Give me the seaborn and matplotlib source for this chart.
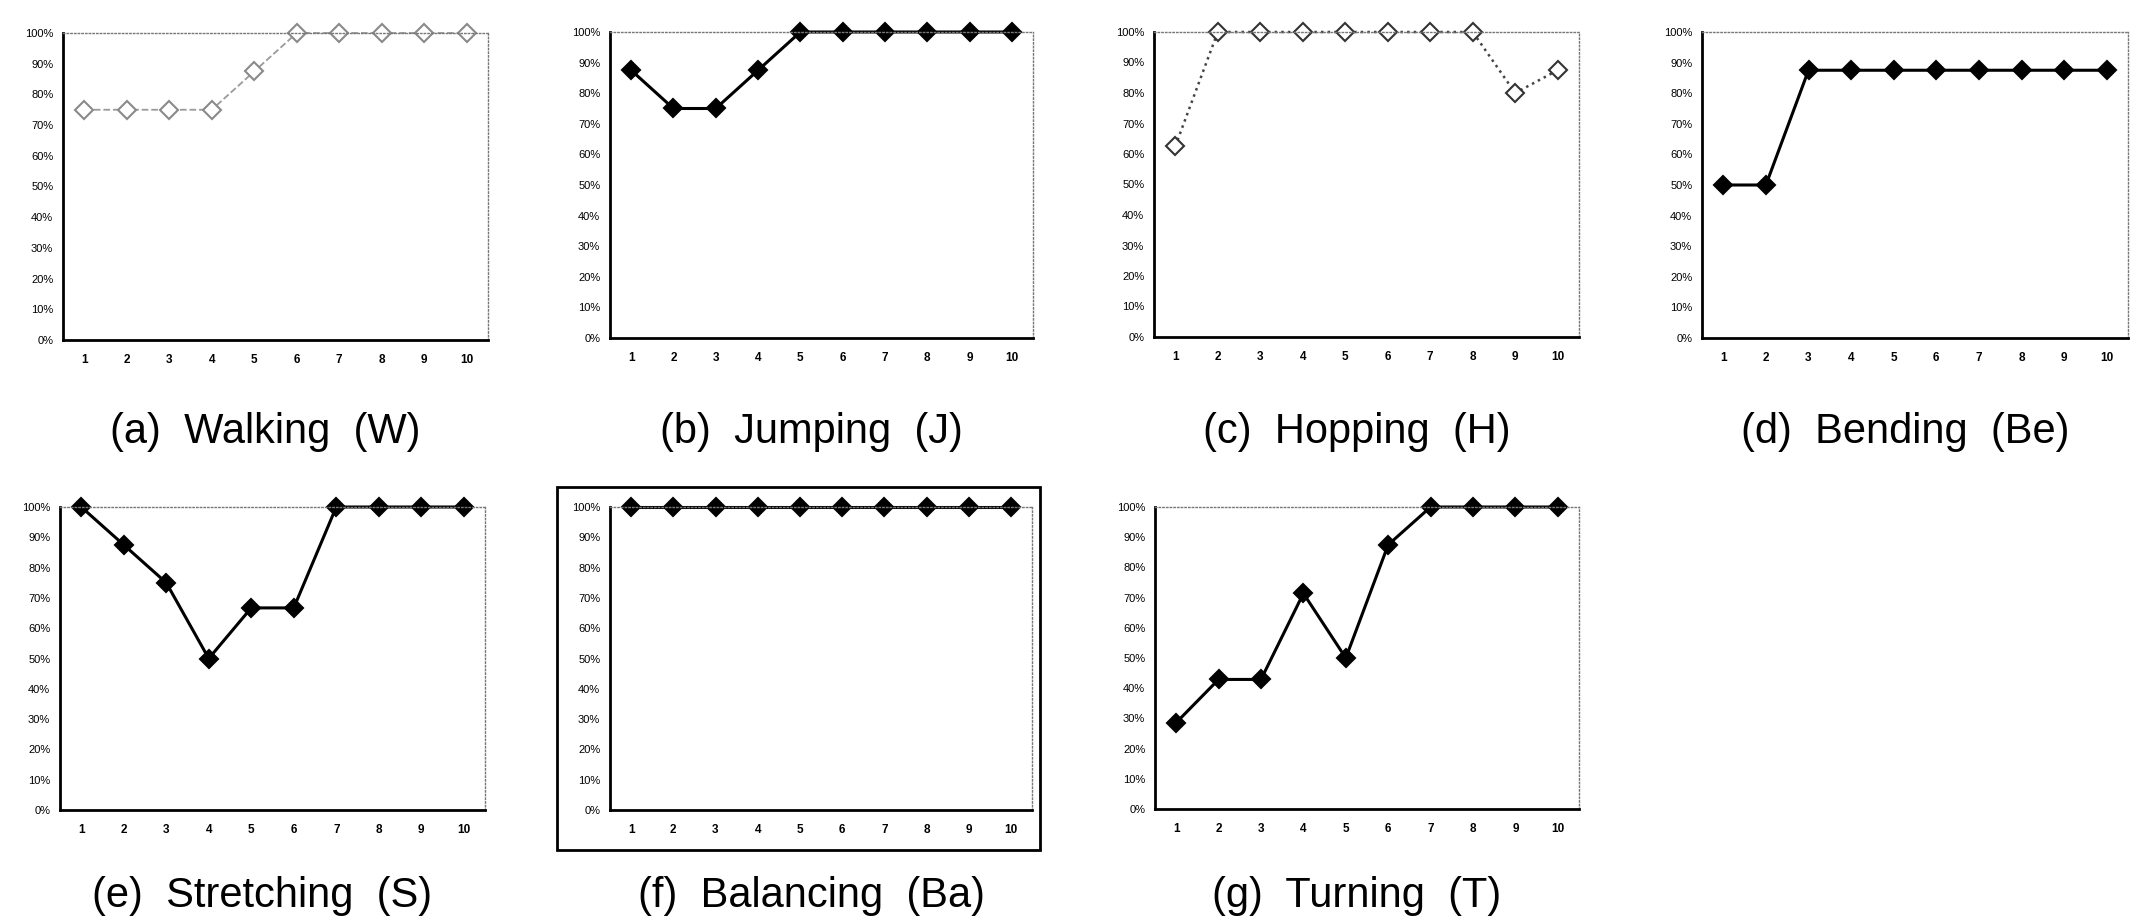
#!/usr/bin/env python3

import matplotlib
matplotlib.use('Agg')
import matplotlib.pyplot as plt
import seaborn as sns
from matplotlib.patches import Rectangle

steps = list(range(1, 11))
walking = [75, 75, 75, 75, 87.5, 100, 100, 100, 100, 100]
jumping = [87.5, 75, 75, 87.5, 100, 100, 100, 100, 100, 100]
hopping = [62.5, 100, 100, 100, 100, 100, 100, 100, 80, 87.5]
bending = [50, 50, 87.5, 87.5, 87.5, 87.5, 87.5, 87.5, 87.5, 87.5]
stretching = [100, 87.5, 75, 50, 66.7, 66.7, 100, 100, 100, 100]
balancing = [100, 100, 100, 100, 100, 100, 100, 100, 100, 100]
turning = [28.6, 42.9, 42.9, 71.4, 50, 87.5, 100, 100, 100, 100]

captions = ['(a)  Walking  (W)', '(b)  Jumping  (J)', '(c)  Hopping  (H)', '(d)  Bending  (Be)',
            '(e)  Stretching  (S)', '(f)  Balancing  (Ba)', '(g)  Turning  (T)']
series = [walking, jumping, hopping, bending, stretching, balancing, turning]
yticks = list(range(0, 101, 10))
ytick_labels = [f'{v}%' for v in yticks]

sns.set_style('white')
plt.rcParams['font.family'] = ['Liberation Sans', 'DejaVu Sans']

W, H = 2133, 922
fig = plt.figure(figsize=(W / 100, H / 100), dpi=100)

# axes boxes in pixels: left, right, top, bottom
boxes = [(63, 488, 33, 340), (610, 1033, 32, 338), (1154, 1579, 32, 337), (1702, 2128, 32, 338),
         (60, 485, 507, 810), (610, 1032, 507, 810), (1155, 1579, 507, 809)]
caption_y = [432, 432, 432, 432, 896, 896, 896]

# line styles: walking / hopping drawn with hollow markers
styles = [
    dict(color='#9a9a9a', linestyle='--', linewidth=1.3, markerfacecolor='white', markeredgecolor='#8a8a8a'),
    dict(color='black', linewidth=2.2, markerfacecolor='black', markeredgecolor='black'),
    dict(color='#444444', linestyle=':', linewidth=1.8, markerfacecolor='white', markeredgecolor='#333333'),
    dict(color='black', linewidth=2.2, markerfacecolor='black', markeredgecolor='black'),
    dict(color='black', linewidth=2.2, markerfacecolor='black', markeredgecolor='black'),
    dict(color='black', linewidth=2.2, markerfacecolor='black', markeredgecolor='black'),
    dict(color='black', linewidth=2.2, markerfacecolor='black', markeredgecolor='black'),
]

for i, (vals, box) in enumerate(zip(series, boxes)):
    l, r, t, b = box
    ax = fig.add_axes([l / W, 1 - b / H, (r - l) / W, (b - t) / H])
    sns.lineplot(x=steps, y=vals, ax=ax, marker='D', markersize=9.5, markeredgewidth=1.5,
                 clip_on=False, **styles[i])
    ax.set_xlim(0.5, 10.5)
    ax.set_ylim(0, 100)
    ax.set_xticks(steps)
    ax.set_xticklabels([str(s) for s in steps], fontsize=8.5, fontweight='bold', color='black')
    ax.set_yticks(yticks)
    ax.set_yticklabels(ytick_labels, fontsize=8, color='black')
    ax.tick_params(axis='y', direction='out', length=3, width=1, pad=4, color='black')
    ax.tick_params(axis='x', length=0, pad=10)
    for side in ['left', 'bottom']:
        ax.spines[side].set_color('black')
        ax.spines[side].set_linewidth(2)
    for side in ['top', 'right']:
        ax.spines[side].set_color('#777777')
        ax.spines[side].set_linewidth(1)
        ax.spines[side].set_linestyle(':')
    cx = (l + r) / 2 - 10
    fig.text(cx / W, 1 - caption_y[i] / H, captions[i], fontsize=30, color='black',
             ha='center', va='center')

# frame around the balancing panel
fig.patches.append(Rectangle((557 / W, 1 - 850 / H), (1040 - 557) / W, (850 - 487) / H,
                             transform=fig.transFigure, fill=False, edgecolor='black', linewidth=2))

plt.savefig('out.png', dpi=100)
